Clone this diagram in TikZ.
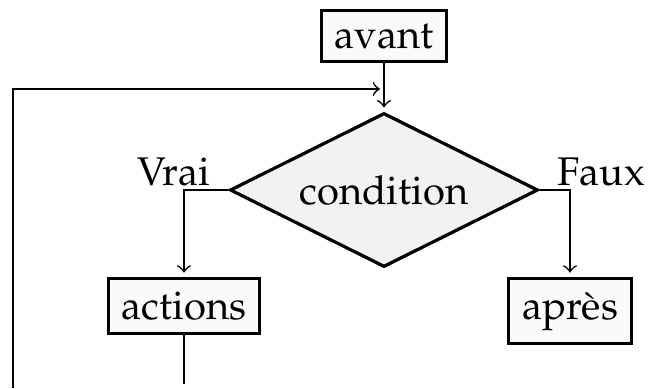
\documentclass[tikz,border=0pt]{standalone}
\usepackage[T1]{fontenc}
\usepackage{mathpazo}
\usetikzlibrary{shapes.geometric,positioning}

\tikzset{
  bloc/.style={draw,thick,fill=black!2},
  test/.style={draw,thick,fill=black!5,diamond,aspect=2,inner sep=0pt,
               minimum width=77pt,minimum height=38.5pt},
}

\begin{document}
\begin{tikzpicture}[shorten >=1pt,node distance=12pt,auto]
   \useasboundingbox (-96pt,-49.5pt) rectangle (67.75pt,47.5pt);
   \node[test] (cond) {condition};
   \node[bloc] (avant) [above=of cond] {avant};
   \node[bloc] (actions) [below=2pt of cond,xshift=-50pt] {actions};
   \node[bloc] (apres) [below=2pt of cond,xshift=46.5pt] {apr\`es};
   \node[anchor=base east] (vrai) at ([xshift=-1pt,yshift=1.25pt]cond.west) {Vrai};
   \node[anchor=base west] (faux) at ([xshift=1pt,yshift=1.25pt]cond.east) {Faux};
   % retour de boucle
   \coordinate (entree) at ([yshift=25.25pt]cond.center);
   \coordinate (retour) at (-92.75pt,-49.5pt);
    \path[->] 
    (avant) edge (cond);
   \draw[->] (cond.west) -| (actions);
   \draw[->] (cond.east) -| (apres);
   \draw (actions) -- (actions |- retour);
   \draw[->] (retour) |- (entree);
\end{tikzpicture}
\end{document}
